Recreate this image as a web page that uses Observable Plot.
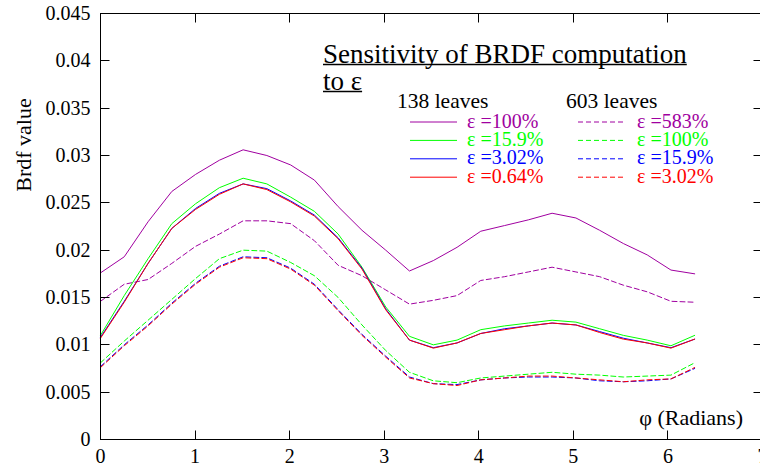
<!DOCTYPE html>
<html><head><meta charset="utf-8">
<script src="https://cdn.jsdelivr.net/npm/d3@7"></script>
<script src="https://cdn.jsdelivr.net/npm/@observablehq/plot@0.6"></script>
<style>
html,body{margin:0;padding:0;background:#fff;overflow:hidden;}
#chart{width:760px;height:466px;}
</style></head><body><div id="chart"></div>
<script>
// azimuth angle phi (radians)
const phi = [0, 0.251, 0.503, 0.754, 1.005, 1.257, 1.508, 1.759, 2.011, 2.262, 2.513, 2.765, 3.016,
             3.267, 3.519, 3.770, 4.021, 4.273, 4.524, 4.775, 5.027, 5.278, 5.529, 5.781, 6.032, 6.283];

// 138 leaves
const s138_e100 = [0.0176, 0.0193, 0.0230, 0.0262, 0.0280, 0.0295, 0.0306, 0.0300, 0.0290, 0.0274, 0.0246, 0.0221, 0.0200,
                   0.0178, 0.0189, 0.0203, 0.0220, 0.0226, 0.0232, 0.0239, 0.0234, 0.0221, 0.0207, 0.0195, 0.0179, 0.0175];
const s138_e159 = [0.0110, 0.0152, 0.0191, 0.0228, 0.0249, 0.0266, 0.0276, 0.0270, 0.0256, 0.0241, 0.0217, 0.0182, 0.0140,
                   0.0109, 0.0100, 0.0105, 0.0116, 0.0120, 0.0123, 0.0126, 0.0124, 0.0117, 0.0110, 0.0105, 0.0099, 0.0110];
const s138_e302 = [0.0108, 0.0146, 0.0186, 0.0223, 0.0244, 0.0260, 0.0270, 0.0265, 0.0252, 0.0237, 0.0213, 0.0181, 0.0138,
                   0.0105, 0.0097, 0.0102, 0.0112, 0.0117, 0.0120, 0.0123, 0.0121, 0.0114, 0.0107, 0.0102, 0.0097, 0.0106];
const s138_e064 = [0.0107, 0.0145, 0.0186, 0.0223, 0.0243, 0.0259, 0.0270, 0.0264, 0.0251, 0.0236, 0.0212, 0.0180, 0.0137,
                   0.0105, 0.00965, 0.0102, 0.0112, 0.0116, 0.0120, 0.0123, 0.0121, 0.0113, 0.0106, 0.0102, 0.00965, 0.0106];

// 603 leaves
const s603_e583 = [0.0146, 0.0164, 0.0169, 0.0186, 0.0204, 0.0217, 0.0231, 0.0231, 0.0228, 0.0210, 0.0184, 0.0173, 0.0158,
                   0.0143, 0.0147, 0.0152, 0.0168, 0.0172, 0.0177, 0.0182, 0.0177, 0.0172, 0.0163, 0.0156, 0.0146, 0.0145];
const s603_e100 = [0.0081, 0.0104, 0.0126, 0.0148, 0.0170, 0.0191, 0.0200, 0.0199, 0.0187, 0.0173, 0.0150, 0.0121, 0.0094,
                   0.0071, 0.0062, 0.0060, 0.0065, 0.0067, 0.0069, 0.0071, 0.0069, 0.0068, 0.0066, 0.0067, 0.0068, 0.0081];
const s603_e159 = [0.0077, 0.0100, 0.0121, 0.0144, 0.0165, 0.0183, 0.0193, 0.0192, 0.0181, 0.0164, 0.0137, 0.0111, 0.0088,
                   0.0066, 0.0059, 0.0058, 0.0063, 0.0065, 0.0066, 0.0066, 0.0065, 0.0062, 0.0061, 0.0062, 0.0064, 0.0075];
const s603_e302 = [0.0076, 0.0099, 0.0120, 0.0143, 0.0164, 0.0182, 0.0192, 0.0191, 0.0180, 0.0163, 0.0136, 0.0110, 0.0087,
                   0.0065, 0.0059, 0.0057, 0.0063, 0.0065, 0.0067, 0.0067, 0.0065, 0.0063, 0.0061, 0.0063, 0.0064, 0.0076];

const labels138 = ["\u03b5 =100%", "\u03b5 =15.9%", "\u03b5 =3.02%", "\u03b5 =0.64%"];
const labels603 = ["\u03b5 =583%", "\u03b5 =100%", "\u03b5 =15.9%", "\u03b5 =3.02%"];
const colors = ["#a000a0", "#00ff00", "#0000ff", "#ff0000"];

const xTicks = [0, 1, 2, 3, 4, 5, 6, 7];
const yTicks = [0, 0.005, 0.01, 0.015, 0.02, 0.025, 0.03, 0.035, 0.04, 0.045];

const titleLines = ["Sensitivity of BRDF computation", "to \u03b5"];
const groupTitles = ["138 leaves", "603 leaves"];
const xLabel = "\u03c6 (Radians)";
const yLabel = "Brdf value";

const series138 = [s138_e100, s138_e159, s138_e302, s138_e064];
const series603 = [s603_e583, s603_e100, s603_e159, s603_e302];

const toRows = vals => vals.map((v, i) => ({phi: phi[i], v}));
const dash = "5,3";

const lineMarks = [];
// dashed (603 leaves) first, then solid (138 leaves); red drawn after blue
[0, 1, 2, 3].forEach(k => lineMarks.push(Plot.line(toRows(series603[k]), {x: "phi", y: "v", stroke: colors[k], strokeWidth: 1, strokeDasharray: dash})));
[0, 1, 2, 3].forEach(k => lineMarks.push(Plot.line(toRows(series138[k]), {x: "phi", y: "v", stroke: colors[k], strokeWidth: 1})));

const FONT = "'Liberation Serif', 'Times New Roman', serif";

const plot = Plot.plot({
  width: 760, height: 466,
  marginLeft: 100, marginRight: -2, marginTop: 13, marginBottom: 27,
  style: {fontFamily: FONT, fontSize: "20px", background: "white", color: "black"},
  x: {domain: [0, 7], ticks: xTicks, tickSize: 0, tickPadding: 9, label: null, tickFormat: d => String(d)},
  y: {domain: [0, 0.045], ticks: yTicks, tickSize: 0, tickPadding: 10, label: null, tickFormat: d => String(d)},
  marks: [
    ...lineMarks,
    Plot.frame({stroke: "black", strokeWidth: 1})
  ]
});
document.getElementById("chart").appendChild(plot);

const sx = plot.scale("x"), sy = plot.scale("y");
const [xl, xr] = sx.range;
const [yb, yt] = sy.range;
const svg = d3.select(plot);
const tg = svg.append("g").attr("stroke", "black").attr("stroke-width", 1).attr("transform", "translate(0.5,0.5)");
const TL = 9;
yTicks.forEach(t => {
  const y = Math.round(sy.apply(t));
  tg.append("line").attr("x1", xl).attr("x2", xl + TL).attr("y1", y).attr("y2", y);
  tg.append("line").attr("x1", xr - TL).attr("x2", xr).attr("y1", y).attr("y2", y);
});
xTicks.forEach(t => {
  const x = Math.round(sx.apply(t));
  tg.append("line").attr("x1", x).attr("x2", x).attr("y1", yb).attr("y2", yb - TL);
  tg.append("line").attr("x1", x).attr("x2", x).attr("y1", yt).attr("y2", yt + TL);
});

const txt = (x, y, size, fill, anchor, s) => svg.append("text").attr("x", x).attr("y", y)
  .attr("text-anchor", anchor).style("font-family", FONT).style("font-size", size + "px").attr("fill", fill).text(s);

// axis labels
svg.append("text").attr("transform", "translate(31,145) rotate(-90)")
  .attr("text-anchor", "middle").style("font-family", FONT).style("font-size", "22px").attr("fill", "black").text(yLabel);
txt(743, 425, 22, "black", "end", xLabel);

// title with underline
titleLines.forEach((t, i) => {
  const y = 63 + i * 27;
  const tx = txt(323, y, 27, "black", "start", t);
  const w = tx.node().getComputedTextLength();
  svg.append("line").attr("x1", 323).attr("x2", 323 + w).attr("y1", y + 1.5).attr("y2", y + 1.5)
    .attr("stroke", "black").attr("stroke-width", 1.3);
});

// legend
const legCols = [{tx: 397, lx1: 410, lx2: 457, lab: 467, labels: labels138, dash: null},
                 {tx: 566, lx1: 578, lx2: 625, lab: 637, labels: labels603, dash: dash}];
legCols.forEach((c, ci) => {
  txt(c.tx, 108, 21.5, "black", "start", groupTitles[ci]);
  c.labels.forEach((lab, k) => {
    const ly = 122 + k * 18.4;
    svg.append("line").attr("x1", c.lx1).attr("x2", c.lx2).attr("y1", ly).attr("y2", ly)
      .attr("stroke", colors[k]).attr("stroke-width", 1).attr("stroke-dasharray", c.dash);
    txt(c.lab, ly + 5.5, 20, colors[k], "start", lab);
  });
});
</script></body></html>
